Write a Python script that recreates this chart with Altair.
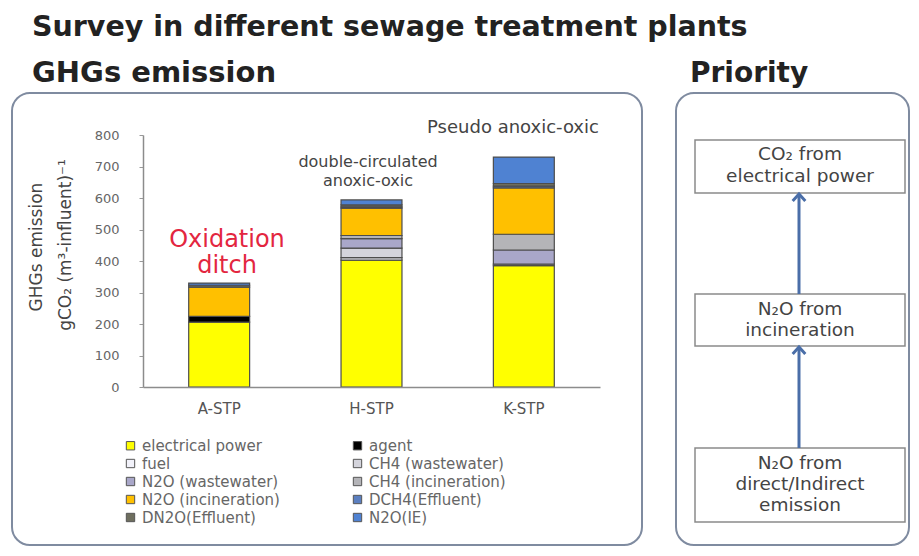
import altair as alt
import pandas as pd

# ---------------- data ----------------
PLANTS = ["A-STP", "H-STP", "K-STP"]
SOURCES = ["electrical power", "agent", "fuel", "CH4 (wastewater)", "N2O (wastewater)",
           "CH4 (incineration)", "N2O (incineration)", "DCH4(Effluent)", "DN2O(Effluent)", "N2O(IE)"]
ELECTRICAL = [206, 403, 385]
AGENT = [18, 0, 0]
FUEL = [0, 8, 0]
CH4_WW = [0, 30, 5]
N2O_WW = [0, 30, 45]
CH4_INC = [0, 10, 50]
N2O_INC = [93, 87, 147]
DCH4_EFF = [0, 4, 6]
DN2O_EFF = [6, 6, 8]
N2O_IE = [7, 16, 84]
SERIES = [ELECTRICAL, AGENT, FUEL, CH4_WW, N2O_WW, CH4_INC, N2O_INC, DCH4_EFF, DN2O_EFF, N2O_IE]
COLORS = ["#ffff00", "#000000", "#f2f2fa", "#d4d4dc", "#a9a7c9",
          "#b4b4b8", "#ffc000", "#5b7fc0", "#6e6e5e", "#4f82d2"]
# legend is filled column by column: left column first, then right column
LEGEND_ORDER = ["electrical power", "fuel", "N2O (wastewater)", "N2O (incineration)", "DN2O(Effluent)",
                "agent", "CH4 (wastewater)", "CH4 (incineration)", "DCH4(Effluent)", "N2O(IE)"]
Y_TICKS = [0, 100, 200, 300, 400, 500, 600, 700, 800]

TITLE = "Survey in different sewage treatment plants"
LEFT_HEAD = "GHGs emission"
RIGHT_HEAD = "Priority"
Y_TITLE_1 = "GHGs emission"
Y_TITLE_2 = "gCO\u2082 (m\u00b3-influent)\u207b\u00b9"
NOTE_A = ["Oxidation", "ditch"]
NOTE_H = ["double-circulated", "anoxic-oxic"]
NOTE_K = "Pseudo anoxic-oxic"
BOX_1 = ["CO\u2082 from", "electrical power"]
BOX_2 = ["N\u2082O from", "incineration"]
BOX_3 = ["N\u2082O from", "direct/Indirect", "emission"]

rows = []
for si, (src, vals) in enumerate(zip(SOURCES, SERIES)):
    for plant, v in zip(PLANTS, vals):
        rows.append({"plant": plant, "source": src, "idx": si, "value": v})
df = pd.DataFrame(rows)

color_of = dict(zip(SOURCES, COLORS))
legend_colors = [color_of[s] for s in LEGEND_ORDER]

FONT = "DejaVu Sans"
one = alt.Data(values=[{"k": 0}])


def rect(x, x2, y, y2, **kw):
    return alt.Chart(one).mark_rect(**kw).encode(
        x=alt.value(x), x2=alt.value(x2), y=alt.value(y), y2=alt.value(y2))


def text(x, y, t, **kw):
    kw.setdefault("font", FONT)
    return alt.Chart(one).mark_text(**kw).encode(
        x=alt.value(x), y=alt.value(y), text=alt.value(t))


def rule(x, y, y2, **kw):
    return alt.Chart(one).mark_rule(**kw).encode(
        x=alt.value(x), y=alt.value(y), y2=alt.value(y2))


PANEL = dict(fill="white", stroke="#7f8ba0", strokeWidth=2, cornerRadius=18)
BOX = dict(fill="white", stroke="#8a8a8a", strokeWidth=1.5)
ARROW = "#4a6ea8"

left_panel = rect(-131, 499, -42, 410, **PANEL)
right_panel = rect(533, 766, -42, 410, **PANEL)

title = text(-111, -99, TITLE, align="left", baseline="alphabetic",
             fontSize=28.5, fontWeight="bold", color="#222")
head_l = text(-111, -53, LEFT_HEAD, align="left", baseline="alphabetic",
              fontSize=29, fontWeight="bold", color="#222")
head_r = text(547, -53, RIGHT_HEAD, align="left", baseline="alphabetic",
              fontSize=28, fontWeight="bold", color="#222")

ytitle1 = text(-106, 112, Y_TITLE_1, angle=270, align="center", baseline="middle",
               fontSize=17, color="#444")
ytitle2 = text(-77, 110, Y_TITLE_2, angle=270, align="center", baseline="middle",
               fontSize=17, color="#444")

note_a = text(84, 112, NOTE_A, align="center", baseline="alphabetic",
              fontSize=24, lineHeight=26, color="#e3263f")
note_h = text(225, 32, NOTE_H, align="center", baseline="alphabetic",
              fontSize=16, lineHeight=19, color="#444")
note_k = text(370, -2, NOTE_K, align="center", baseline="alphabetic",
              fontSize=18, color="#444")

box1 = rect(552, 762, 5, 58, **BOX)
box2 = rect(552, 762, 159, 211, **BOX)
box3 = rect(552, 762, 313, 387, **BOX)
btxt1 = text(657, 25, BOX_1, align="center", baseline="alphabetic",
             fontSize=18.5, lineHeight=21.5, color="#444")
btxt2 = text(657, 180, BOX_2, align="center", baseline="alphabetic",
             fontSize=18.5, lineHeight=21, color="#444")
btxt3 = text(657, 334, BOX_3, align="center", baseline="alphabetic",
             fontSize=18.5, lineHeight=21, color="#444")

shaft1 = rule(656, 159, 60, color=ARROW, strokeWidth=3)
shaft2 = rule(656, 313, 213, color=ARROW, strokeWidth=3)
CHEVRON = "M-1,0.8L0,-0.3L1,0.8"
head1 = alt.Chart(one).mark_point(shape=CHEVRON, filled=False, stroke=ARROW,
                                  strokeWidth=3, size=160, opacity=1).encode(
    x=alt.value(656), y=alt.value(61))
head2 = alt.Chart(one).mark_point(shape=CHEVRON, filled=False, stroke=ARROW,
                                  strokeWidth=3, size=160, opacity=1).encode(
    x=alt.value(656), y=alt.value(214))

bars = alt.Chart(df).transform_filter("datum.value > 0").mark_bar(
    stroke="#4d4d4d", strokeWidth=1.2).encode(
    x=alt.X("plant:N", sort=PLANTS,
            scale=alt.Scale(paddingInner=0.6, paddingOuter=0.3),
            axis=alt.Axis(title=None, labelAngle=0, ticks=False, domainColor="#8c8c8c",
                          domainWidth=1.5, labelFont=FONT, labelFontSize=15,
                          labelColor="#555", labelPadding=14, zindex=1)),
    y=alt.Y("value:Q", stack="zero",
            scale=alt.Scale(domain=[0, 800], nice=False),
            axis=alt.Axis(title=None, values=Y_TICKS, grid=False, tickSize=4,
                          tickColor="#999", domainColor="#8c8c8c", domainWidth=1.5,
                          labelPadding=20, labelFont=FONT, labelFontSize=13,
                          labelColor="#666", zindex=1)),
    color=alt.Color("source:N", scale=alt.Scale(domain=LEGEND_ORDER, range=legend_colors),
                    legend=alt.Legend(title=None, orient="none", legendX=-20, legendY=303,
                                      columns=2, columnPadding=70, rowPadding=2,
                                      symbolType="square", symbolSize=70,
                                      symbolStrokeColor="#555", symbolStrokeWidth=1,
                                      labelFont=FONT, labelFontSize=15, labelColor="#666",
                                      labelOffset=4, padding=0, zindex=1)),
    order=alt.Order("idx:Q", sort="ascending"),
)

chart = alt.layer(
    left_panel, right_panel, title, head_l, head_r, ytitle1, ytitle2,
    bars, note_a, note_h, note_k,
    box1, box2, box3, btxt1, btxt2, btxt3, shaft1, shaft2, head1, head2,
).properties(
    width=457, height=252,
    autosize=alt.AutoSizeParams(type="none"),
    padding={"left": 135, "top": 127, "right": 311, "bottom": 161},
    background="white",
).configure_view(strokeWidth=0).configure(font=FONT)

chart.save("out.html", embed_options={"renderer": "svg", "actions": False})
